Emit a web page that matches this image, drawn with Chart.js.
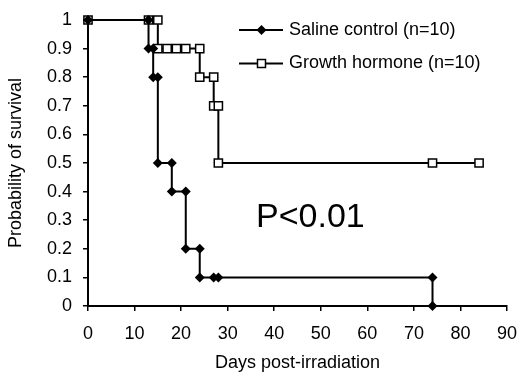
<!DOCTYPE html>
<html>
<head>
<meta charset="utf-8">
<script src="https://cdn.jsdelivr.net/npm/chart.js@4/dist/chart.umd.min.js"></script>
<style>
html,body{margin:0;padding:0;background:#fff;}
#wrap{width:520px;height:379px;position:relative;}
</style>
</head>
<body>
<div id="wrap"><canvas id="c" width="520" height="379"></canvas></div>
<script>
const salineDays = [0, 13, 13, 14, 14, 15, 15, 18, 18, 21, 21, 24, 24, 27, 28, 74, 74];
const salineSurv = [1, 1, 0.9, 0.9, 0.8, 0.8, 0.5, 0.5, 0.4, 0.4, 0.2, 0.2, 0.1, 0.1, 0.1, 0.1, 0];
const ghDays = [0, 13, 15, 15, 17, 19, 21, 24, 24, 27, 27, 28, 28, 74, 84];
const ghSurv = [1, 1, 1, 0.9, 0.9, 0.9, 0.9, 0.9, 0.8, 0.8, 0.7, 0.7, 0.5, 0.5, 0.5];
const seriesNames = ['Saline control (n=10)', 'Growth hormone (n=10)'];
const xTicks = [0, 10, 20, 30, 40, 50, 60, 70, 80, 90];
const yTicks = [0, 0.1, 0.2, 0.3, 0.4, 0.5, 0.6, 0.7, 0.8, 0.9, 1];
const yTickLabels = ['0', '0.1', '0.2', '0.3', '0.4', '0.5', '0.6', '0.7', '0.8', '0.9', '1'];
const xTitle = 'Days post-irradiation';
const yTitle = 'Probability of survival';
const annotation = 'P<0.01';

const FONT = "'Liberation Sans', Arial, sans-serif";
const toPts = (xs, ys) => xs.map((x, i) => ({x: x, y: ys[i]}));

function drawDiamond(ctx, x, y, r) {
  ctx.beginPath();
  ctx.moveTo(x - r, y); ctx.lineTo(x, y - r); ctx.lineTo(x + r, y); ctx.lineTo(x, y + r);
  ctx.closePath();
  ctx.fillStyle = '#000'; ctx.fill();
}
function drawSquare(ctx, x, y, s) {
  ctx.beginPath();
  ctx.rect(x - s / 2, y - s / 2, s, s);
  ctx.fillStyle = '#fff'; ctx.fill();
  ctx.lineWidth = 1.5; ctx.strokeStyle = '#000'; ctx.stroke();
}

const overlay = {
  id: 'overlay',
  afterDraw(chart) {
    const ctx = chart.ctx;
    ctx.save();
    const rows = [{y: 30, kind: 'd'}, {y: 63.5, kind: 's'}];
    rows.forEach((row, i) => {
      ctx.beginPath();
      ctx.moveTo(239, row.y); ctx.lineTo(283, row.y);
      ctx.lineWidth = 2; ctx.strokeStyle = '#000'; ctx.stroke();
      if (row.kind === 'd') drawDiamond(ctx, 261.5, row.y, 5);
      else drawSquare(ctx, 261.5, row.y, 8);
      ctx.fillStyle = '#000';
      ctx.font = '18px ' + FONT;
      ctx.textAlign = 'left'; ctx.textBaseline = 'middle';
      ctx.fillText(seriesNames[i], 289, row.y);
    });
    ctx.font = '34px ' + FONT;
    ctx.fillStyle = '#000';
    ctx.textAlign = 'left'; ctx.textBaseline = 'middle';
    ctx.fillText(annotation, 256, 218);
    ctx.restore();
  }
};

new Chart(document.getElementById('c'), {
  type: 'line',
  data: {
    datasets: [
      {
        label: seriesNames[0],
        data: toPts(salineDays, salineSurv),
        borderColor: '#000', borderWidth: 2, tension: 0, clip: false,
        pointStyle: 'rectRot', pointRadius: 5, pointBorderWidth: 0,
        pointBackgroundColor: '#000', pointBorderColor: '#000', fill: false
      },
      {
        label: seriesNames[1],
        data: toPts(ghDays, ghSurv),
        borderColor: '#000', borderWidth: 2, tension: 0, clip: false,
        pointStyle: 'rect', pointRadius: 5.8, pointBorderWidth: 1.5,
        pointBackgroundColor: '#fff', pointBorderColor: '#000', fill: false
      }
    ]
  },
  options: {
    responsive: false,
    animation: false,
    devicePixelRatio: 1,
    layout: {padding: {left: 0, right: 13, top: 20, bottom: 0}},
    plugins: {legend: {display: false}, tooltip: {enabled: false}},
    scales: {
      x: {
        type: 'linear', min: 0, max: 90,
        afterBuildTicks: s => { s.ticks = xTicks.map(v => ({value: v})); },
        afterFit: s => { s.height = 73; s.paddingRight = 5; s.paddingLeft = 5; },
        ticks: {color: '#000', font: {family: FONT, size: 18}, padding: 12, maxRotation: 0,
                callback: v => String(v)},
        grid: {display: true, drawOnChartArea: false, drawTicks: true, tickLength: 5, color: '#000', lineWidth: 1.5},
        border: {display: true, color: '#000', width: 2},
        title: {display: true, text: xTitle, color: '#000', font: {family: FONT, size: 18}, padding: {top: 0, bottom: 5}}
      },
      y: {
        type: 'linear', min: 0, max: 1,
        afterBuildTicks: s => { s.ticks = yTicks.map(v => ({value: v})); },
        afterFit: s => { s.width = 88; s.paddingTop = 5; s.paddingBottom = 5; },
        ticks: {color: '#000', font: {family: FONT, size: 18}, padding: 11,
                callback: (v, i) => yTickLabels[i]},
        grid: {display: true, drawOnChartArea: false, drawTicks: true, tickLength: 5, color: '#000', lineWidth: 1.5},
        border: {display: true, color: '#000', width: 2},
        title: {display: true, text: yTitle, color: '#000', font: {family: FONT, size: 18}, padding: {top: 5, bottom: 0}}
      }
    }
  },
  plugins: [overlay]
});
</script>
</body>
</html>
